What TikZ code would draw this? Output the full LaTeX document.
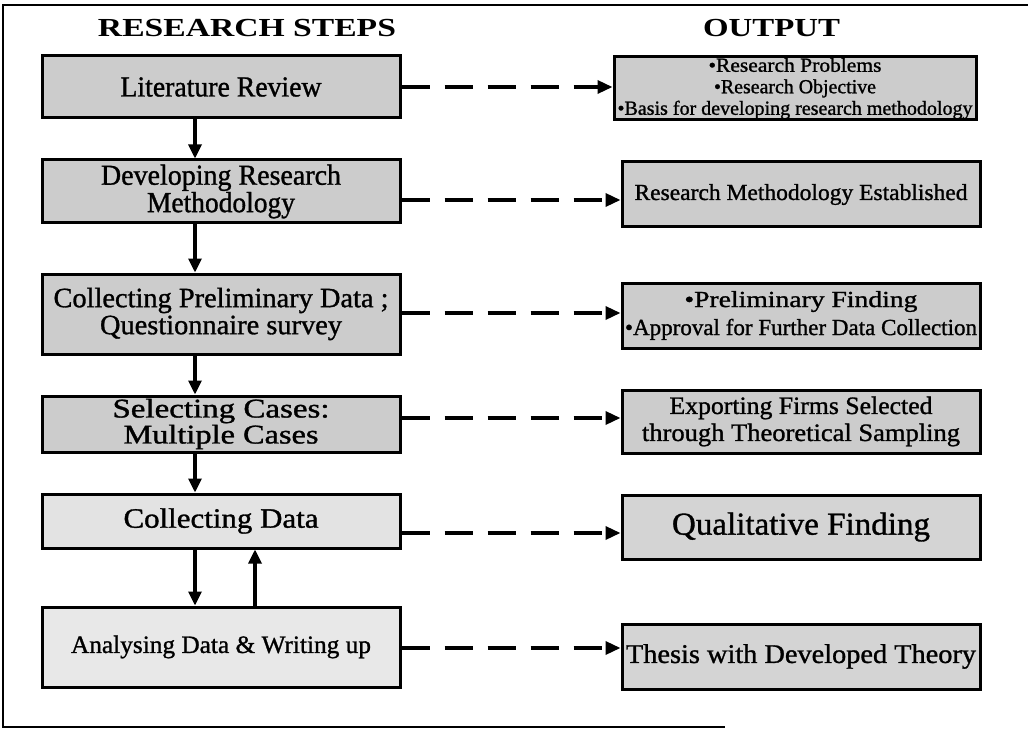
\documentclass[tikz,border=0pt]{standalone}
\usepackage{fontspec}
\setmainfont{Liberation Serif}
\newfontfamily\boxfont{Liberation Serif}[FakeBold=1.1]
\usetikzlibrary{arrows.meta}

% set one line of text to a given width, keeping its height
\newcommand{\fitline}[2]{\resizebox{#1pt}{\height}{#2}}

\begin{document}
\begin{tikzpicture}[x=1pt,y=-1pt,
  stepbox/.style={draw, line width=3pt, fill=gray!40, inner sep=0pt, align=center},
  lightbox/.style={stepbox, fill=gray!22},
  headline/.style={anchor=base, font=\fontsize{26}{28}\selectfont\bfseries, inner sep=0pt},
  flow/.style={line width=3.2pt, -{Triangle[length=14pt,width=13pt]}},
  dashflow/.style={line width=3.4pt, dash pattern=on 28pt off 15pt, -{Triangle[length=15pt,width=13pt]}}
]
\useasboundingbox (0,0) rectangle (1028,738);

% outer frame (open on the right)
\draw[line width=1.8pt] (1028,5) -- (3,5) -- (3,727) -- (725,727);

% column headings
\node[headline] (hsteps) at (247,37) {\fitline{298}{RESEARCH STEPS}};
\node[headline] (hout) at (771.5,37) {\fitline{137}{OUTPUT}};

% research steps
\node[stepbox, minimum width=358pt, minimum height=62pt, font=\boxfont\fontsize{29}{26}\selectfont]
  (l1) at (221,87) {\fitline{201}{Literature Review}};
\node[stepbox, minimum width=358pt, minimum height=63pt, font=\boxfont\fontsize{29}{26}\selectfont]
  (l2) at (221,191.5) {\fitline{240}{Developing Research}\\\fitline{148}{Methodology}};
\node[stepbox, minimum width=358pt, minimum height=80pt, font=\boxfont\fontsize{28}{27}\selectfont]
  (l3) at (221,314) {\fitline{335}{Collecting Preliminary Data ;}\\\fitline{242}{Questionnaire survey}};
\node[stepbox, minimum width=358pt, minimum height=56pt, font=\boxfont\fontsize{27}{26}\selectfont]
  (l4) at (221,424) {\fitline{217}{Selecting Cases:}\\\fitline{195}{Multiple Cases}};
\node[lightbox, minimum width=358pt, minimum height=54pt, font=\boxfont\fontsize{28}{27}\selectfont]
  (l5) at (221,521) {\fitline{195}{Collecting Data}};
\node[lightbox, fill=gray!18, minimum width=358pt, minimum height=80pt, font=\boxfont\fontsize{25}{27}\selectfont]
  (l6) at (221,647) {\fitline{300}{Analysing Data \& Writing up}};

% outputs
\node[stepbox, minimum width=362pt, minimum height=63pt, font=\boxfont\fontsize{20}{21.5}\selectfont]
  (r1) at (795,88.5) {\fitline{173}{•Research Problems}\\\fitline{162}{•Research Objective}\\\fitline{355}{•Basis for developing research methodology}};
\node[stepbox, minimum width=358pt, minimum height=65pt, font=\boxfont\fontsize{23}{27}\selectfont]
  (r2) at (801,194.5) {\fitline{333}{Research Methodology Established}};
\node[stepbox, minimum width=358pt, minimum height=65pt, font=\boxfont\fontsize{23}{28}\selectfont]
  (r3) at (801,315.5) {\fitline{233}{•Preliminary Finding}\\\fitline{352}{•Approval for Further Data Collection}};
\node[stepbox, minimum width=358pt, minimum height=63pt, font=\boxfont\fontsize{25}{27}\selectfont]
  (r4) at (801,421.5) {\fitline{263}{Exporting Firms Selected}\\\fitline{318}{through Theoretical Sampling}};
\node[stepbox, fill=gray!34, minimum width=358pt, minimum height=64pt, font=\boxfont\fontsize{32}{34}\selectfont]
  (r5) at (801,527) {\fitline{258}{Qualitative Finding}};
\node[stepbox, fill=gray!34, minimum width=358pt, minimum height=65pt, font=\boxfont\fontsize{27}{29}\selectfont]
  (r6) at (801,656.5) {\fitline{350}{Thesis with Developed Theory}};

% vertical flow between steps
\coordinate (ax) at (195,0);
\coordinate (bx) at (255,0);
\draw[flow] (l1.south -| ax) -- (l2.north -| ax);
\draw[flow] (l2.south -| ax) -- (l3.north -| ax);
\draw[flow] (l3.south -| ax) -- (l4.north -| ax);
\draw[flow] (l4.south -| ax) -- (l5.north -| ax);
\draw[flow] (l5.south -| ax) -- (l6.north -| ax);
\draw[flow] (l6.north -| bx) -- (l5.south -| bx);

% dashed links from each step to its output
\coordinate (d1) at (l1.east);
\coordinate (d2) at ([yshift=-8.5pt]l2.east);
\coordinate (d3) at ([yshift=1pt]l3.east);
\coordinate (d4) at ([yshift=6pt]l4.east);
\coordinate (d5) at ([yshift=-12pt]l5.east);
\coordinate (d6) at ([yshift=-1pt]l6.east);
\draw[dashflow] (d1) -- (d1 -| r1.west);
\draw[dashflow] (d2) -- (d2 -| r2.west);
\draw[dashflow] (d3) -- (d3 -| r3.west);
\draw[dashflow] (d4) -- (d4 -| r4.west);
\draw[dashflow] (d5) -- (d5 -| r5.west);
\draw[dashflow] (d6) -- (d6 -| r6.west);
\end{tikzpicture}
\end{document}
